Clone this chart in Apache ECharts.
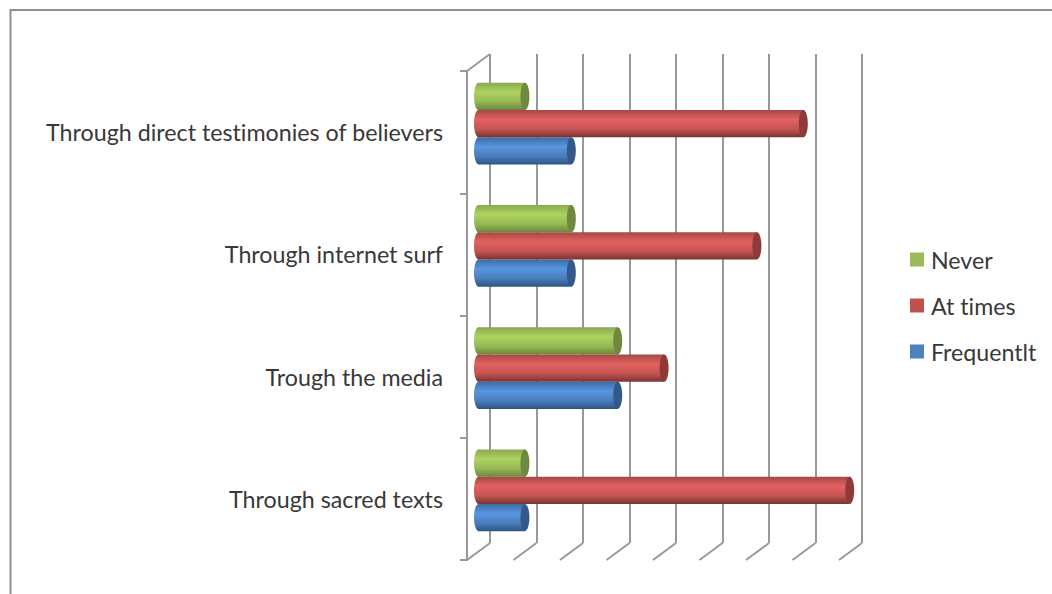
<!DOCTYPE html>
<html><head><meta charset="utf-8">
<style>html,body{margin:0;padding:0;background:#fff}#c{width:1052px;height:594px}text{font-variant-ligatures:none}</style>
<script src="https://cdn.jsdelivr.net/npm/echarts@6/dist/echarts.min.js"></script>
</head><body><div id="c"></div>
<script>
const categories = ['Through sacred texts','Trough the media','Through internet surf','Through direct testimonies of believers'];
const never = [1,3,2,1];
const atTimes = [8,4,6,7];
const frequentlt = [1,3,2,2];
const valueTicks = [0,1,2,3,4,5,6,7,8];
const GRID = '#999999', FONT = 'Lato', TXT = '#383838';
const depth = [23,-17];

const chart = echarts.init(document.getElementById('c'),null,{renderer:'svg'});
function cyl(stops, cap, slot){
  return function(params, api){
    const end = api.coord([api.value(0), api.value(1)]);
    const start = api.coord([0, api.value(1)]);
    const band = api.size([0,1])[1];
    const h = band*0.2225, rx = 4.5;
    const cy = end[1] + slot*h;
    const y0 = cy-h/2, x0 = start[0], x1 = end[0];
    const fill = new echarts.graphic.LinearGradient(0,0,0,1,stops);
    return {type:'group',children:[
      {type:'ellipse',shape:{cx:x0,cy:cy,rx:rx,ry:h/2},style:{fill:fill}},
      {type:'rect',shape:{x:x0,y:y0,width:x1-x0,height:h},style:{fill:fill}},
      {type:'ellipse',shape:{cx:x1,cy:cy,rx:rx,ry:h/2},style:{fill:cap}}
    ]};
  };
}
function stops(a,b,c,d){return [{offset:0,color:a},{offset:.35,color:b},{offset:.7,color:c},{offset:1,color:d}];}
function barSeries(name,vals,color,st,cap,slot){
  return {type:'custom',name:name,xAxisIndex:2,yAxisIndex:2,itemStyle:{color:color},z:5,
    data:vals.map((v,i)=>[v,i]),encode:{x:0,y:1},renderItem:cyl(st,cap,slot)};
}
function depthLine(catIndex, side){
  return function(p,api){
    const a = api.coord([api.value(0),catIndex]);
    const y = a[1] + side*api.size([0,1])[1]/2;
    return {type:'line',shape:{x1:a[0],y1:y,x2:a[0]+depth[0],y2:y+depth[1]},style:{stroke:GRID,lineWidth:2}};
  };
}
const diag = {type:'custom',xAxisIndex:1,yAxisIndex:1,silent:true,z:2,
  data:valueTicks.map(v=>[v,0]),encode:{x:0,y:1},renderItem:depthLine(0,1)};
const corner = {type:'custom',xAxisIndex:1,yAxisIndex:1,silent:true,z:2,
  data:[[0,3]],encode:{x:0,y:1},renderItem:depthLine(3,-1)};
const hiddenCat = {type:'category',data:categories,axisLine:{show:false},axisTick:{show:false},axisLabel:{show:false},splitLine:{show:false}};
const hiddenVal = {type:'value',min:0,max:8,interval:1,axisLine:{show:false},axisTick:{show:false},axisLabel:{show:false},splitLine:{show:false}};
chart.setOption({
  animation:false,
  backgroundColor:'#fff',
  graphic:[{type:'polyline',shape:{points:[[10.5,594],[10.5,10],[1052,10]]},style:{stroke:'#8f8f8f',fill:null,lineWidth:2},silent:true}],
  legend:{orient:'vertical',left:905,top:243,itemWidth:14,itemHeight:14,itemGap:23,icon:'rect',selectedMode:false,
    data:['Never','At times','Frequentlt'],
    textStyle:{fontFamily:FONT,fontSize:23.2,color:TXT,padding:[0,0,0,2],lineHeight:22}},
  grid:[
    {left:490,top:54,width:372,height:489},
    {left:467,top:71,width:372,height:489},
    {left:478.5,top:62.5,width:371.2,height:489}
  ],
  xAxis:[
    {gridIndex:0,type:'value',min:0,max:8,interval:1,axisLine:{show:false},axisTick:{show:false},axisLabel:{show:false},
      splitLine:{show:true,lineStyle:{color:GRID,width:2}}},
    Object.assign({gridIndex:1},hiddenVal),
    Object.assign({gridIndex:2},hiddenVal)
  ],
  yAxis:[
    Object.assign({gridIndex:0},hiddenCat),
    {gridIndex:1,type:'category',data:categories,
      axisLine:{show:true,lineStyle:{color:GRID,width:2}},
      axisTick:{show:true,length:7,alignWithLabel:false,lineStyle:{color:GRID,width:2}},
      axisLabel:{fontFamily:FONT,fontSize:23.25,color:TXT,margin:24,interval:0,verticalAlign:'middle',padding:[5,0,0,0]},splitLine:{show:false}},
    Object.assign({gridIndex:2},hiddenCat)
  ],
  series:[
    diag,corner,
    barSeries('Frequentlt',frequentlt,'#4f81bd',stops('#3c6ca6','#5896de','#4a7dba','#2c5585'),'#33598a',1),
    barSeries('Never',never,'#9bbb59',stops('#8aa94f','#aed361','#95b854','#6b873b'),'#6f8a3f',-1),
    barSeries('At times',atTimes,'#c0504d',stops('#a54845','#e36261','#c45452','#7a3331'),'#8f3a38',0)
  ]
});
</script></body></html>
